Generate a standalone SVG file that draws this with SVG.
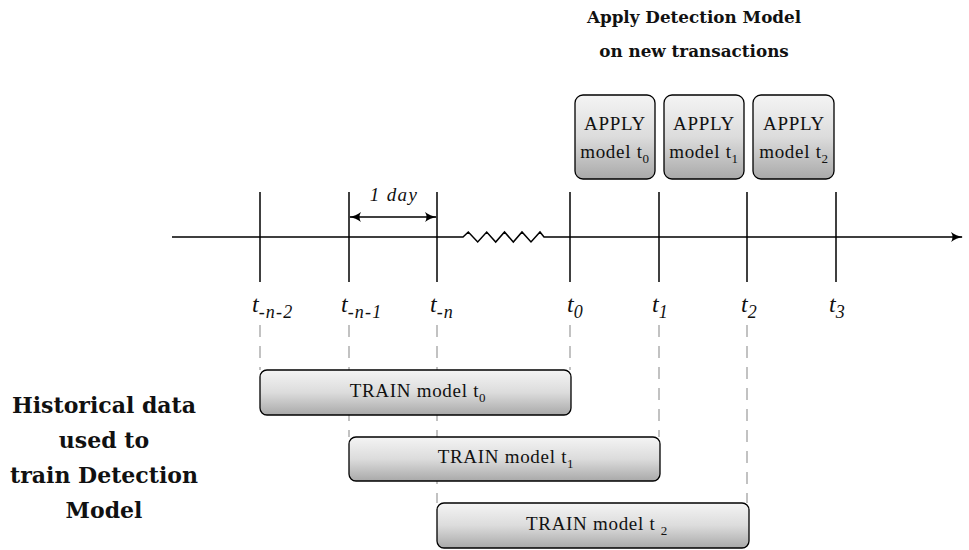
<svg xmlns="http://www.w3.org/2000/svg" width="969" height="550" viewBox="0 0 969 550">
<style>
.tick{stroke:#000;stroke-width:1.5;fill:none}
.axis{stroke:#000;stroke-width:1.5;fill:none}
.dash{stroke:#9a9a9a;stroke-width:1.2;stroke-dasharray:12 9;fill:none}
.box{fill:url(#g);stroke:#000;stroke-width:1.3}
.reg{font-family:"Liberation Serif","Times New Roman",serif;font-size:19px;letter-spacing:0.7px;fill:#111}
.it{font-family:"Liberation Serif","Times New Roman",serif;font-style:italic;fill:#111}
.bold{font-family:"DejaVu Serif","Liberation Serif",serif;font-weight:bold;fill:#111}
</style>
<defs>
<linearGradient id="g" x1="0" y1="0" x2="0" y2="1">
<stop offset="0" stop-color="#f4f4f4"/>
<stop offset="0.5" stop-color="#dcdcdc"/>
<stop offset="1" stop-color="#a9a9a9"/>
</linearGradient>
<marker id="ah" viewBox="0 0 12 10" refX="11" refY="5" markerWidth="12" markerHeight="10" markerUnits="userSpaceOnUse" orient="auto-start-reverse">
<path d="M0,0 Q5,4 12,5 Q5,6 0,10 Q3,5 0,0 Z" fill="#000"/>
</marker>
</defs>

<g id="title">
<text class="bold" x="694" y="23" font-size="16.8" text-anchor="middle">Apply Detection Model</text>
<text class="bold" x="694" y="57" font-size="16.8" text-anchor="middle">on new transactions</text>
</g>

<g id="historical-label">
<text class="bold" x="104" y="413" font-size="22" text-anchor="middle">Historical data</text>
<text class="bold" x="104" y="448" font-size="22" text-anchor="middle">used to</text>
<text class="bold" x="104" y="483" font-size="22" text-anchor="middle">train Detection</text>
<text class="bold" x="104" y="518" font-size="22" text-anchor="middle">Model</text>
</g>

<g id="connectors">
<path class="axis" d="M172,237 H463 L468.3,232 L477.7,242 L486.7,232 L495.7,242 L504.5,232 L513.3,242 L522,232 L531,242 L540,232 L544,237 H962" marker-end="url(#ah)"/>
<line class="tick" x1="260" y1="192" x2="260" y2="282"/>
<line class="tick" x1="349" y1="192" x2="349" y2="282"/>
<line class="tick" x1="437" y1="192" x2="437" y2="282"/>
<line class="tick" x1="570" y1="192" x2="570" y2="282"/>
<line class="tick" x1="659" y1="192" x2="659" y2="282"/>
<line class="tick" x1="747" y1="192" x2="747" y2="282"/>
<line class="tick" x1="836" y1="192" x2="836" y2="282"/>
<line x1="350" y1="217" x2="436" y2="217" stroke="#000" stroke-width="1.5" marker-start="url(#ah)" marker-end="url(#ah)"/>
<line class="dash" x1="260" y1="325" x2="260" y2="370"/>
<line class="dash" x1="349" y1="325" x2="349" y2="437"/>
<line class="dash" x1="437" y1="325" x2="437" y2="503"/>
<line class="dash" x1="570" y1="325" x2="570" y2="370"/>
<line class="dash" x1="659" y1="325" x2="659" y2="437"/>
<line class="dash" x1="747" y1="325" x2="747" y2="503"/>
</g>

<g id="one-day-label">
<text class="it" x="394" y="201" font-size="19" letter-spacing="1.4" text-anchor="middle">1 day</text>
</g>

<g id="tick-labels">
<text class="it" x="252" y="312" font-size="24">t<tspan font-size="18" letter-spacing="1.2" dy="6">-n-2</tspan></text>
<text class="it" x="341" y="312" font-size="24">t<tspan font-size="18" letter-spacing="1.2" dy="6">-n-1</tspan></text>
<text class="it" x="430" y="312" font-size="24">t<tspan font-size="18" letter-spacing="1.2" dy="6">-n</tspan></text>
<text class="it" x="567" y="312" font-size="24">t<tspan font-size="18" dy="6">0</tspan></text>
<text class="it" x="652" y="312" font-size="24">t<tspan font-size="18" dy="6">1</tspan></text>
<text class="it" x="741" y="312" font-size="24">t<tspan font-size="18" dy="6">2</tspan></text>
<text class="it" x="829" y="312" font-size="24">t<tspan font-size="18" dy="6">3</tspan></text>
</g>

<g id="apply-t0">
<rect class="box" x="575" y="95" width="80" height="84" rx="8"/>
<text class="reg" x="615" y="130" text-anchor="middle">APPLY</text>
<text class="reg" x="615" y="158" text-anchor="middle">model t<tspan font-size="13" dy="5">0</tspan></text>
</g>
<g id="apply-t1">
<rect class="box" x="664" y="95" width="80" height="84" rx="8"/>
<text class="reg" x="704" y="130" text-anchor="middle">APPLY</text>
<text class="reg" x="704" y="158" text-anchor="middle">model t<tspan font-size="13" dy="5">1</tspan></text>
</g>
<g id="apply-t2">
<rect class="box" x="753" y="95" width="81" height="84" rx="8"/>
<text class="reg" x="794" y="130" text-anchor="middle">APPLY</text>
<text class="reg" x="794" y="158" text-anchor="middle">model t<tspan font-size="13" dy="5">2</tspan></text>
</g>

<g id="train-t0">
<rect class="box" x="260" y="370" width="311" height="45" rx="7"/>
<text class="reg" x="418" y="397" text-anchor="middle">TRAIN model t<tspan font-size="13" dy="5">0</tspan></text>
</g>
<g id="train-t1">
<rect class="box" x="349" y="437" width="311" height="44" rx="7"/>
<text class="reg" x="506" y="463" text-anchor="middle">TRAIN model t<tspan font-size="13" dy="5">1</tspan></text>
</g>
<g id="train-t2">
<rect class="box" x="437" y="503" width="312" height="45" rx="7"/>
<text class="reg" x="597" y="530" text-anchor="middle">TRAIN model t <tspan font-size="13" dy="5">2</tspan></text>
</g>
</svg>
